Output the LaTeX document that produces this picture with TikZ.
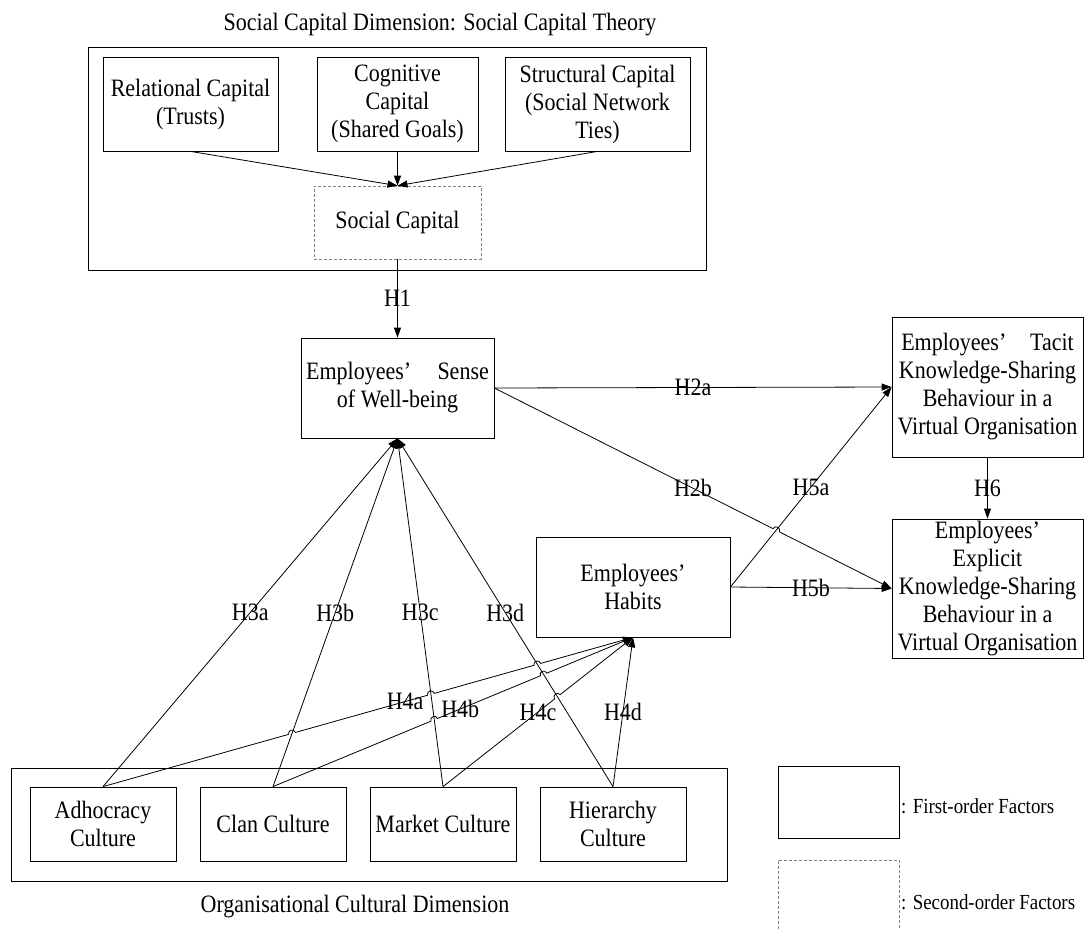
\documentclass[tikz,border=0pt]{standalone}
\usepackage{fontspec}
\setmainfont{Liberation Serif}[FakeStretch=0.88]
\usetikzlibrary{arrows.meta,calc,intersections}

\begin{document}
\begin{tikzpicture}[x=1pt,y=-1pt,
  every node/.style={font=\fontsize{25}{28}\selectfont},
  box/.style={draw, line width=0.8pt, align=center, inner sep=0pt},
  dbox/.style={draw=gray, densely dashed, line width=0.6pt, align=center, inner sep=0pt},
  lbl/.style={inner sep=0pt},
  legtxt/.style={inner sep=0pt, anchor=west, font=\fontsize{21.5}{24}\selectfont},
  arr/.style={line width=0.8pt, -{Triangle[length=10pt,width=7pt]}},
  hopbend/.style={bend left=90, looseness=1.65},
]
\useasboundingbox (0,0) rectangle (1091,929);

% ---- social capital block
\node[lbl] (sctitle) at (440,25) {Social Capital Dimension: Social Capital Theory};
\node[box, minimum width=618, minimum height=223] (scframe) at (397,158.5) {};
\node[box, minimum width=175, minimum height=94] (rel) at (190.5,104) {Relational Capital\\(Trusts)};
\node[box, minimum width=161, minimum height=94] (cog) at (397.5,104) {Cognitive\\Capital\\(Shared Goals)};
\node[box, minimum width=185, minimum height=94] (str) at (597.5,104) {Structural Capital\\(Social Network\\Ties)};
\node[dbox, minimum width=167, minimum height=73] (soc) at (397.5,222.5) {Social Capital};

\draw[arr] (rel.south) -- (soc.north);
\draw[arr] (cog.south) -- (soc.north);
\draw[arr] (str.south) -- (soc.north);

% ---- central constructs
\node[box, minimum width=193, minimum height=100] (sense) at (397.5,388) {Employees’\hspace{1.05em}Sense\\of Well-being};
\node[box, minimum width=191, minimum height=140] (tacit) at (987.5,387) {Employees’\hspace{0.95em}Tacit\\Knowledge-Sharing\\Behaviour in a\\Virtual Organisation};
\node[box, minimum width=191, minimum height=139] (expl) at (987.5,588.5) {Employees’\\Explicit\\Knowledge-Sharing\\Behaviour in a\\Virtual Organisation};
\node[box, minimum width=194, minimum height=100] (habits) at (633,587) {Employees’\\Habits};

\draw[arr] (soc.south) -- node[lbl] (lh1) {H1} (sense.north);
\draw[arr] (sense.east) -- node[lbl] (lh2a) {H2a} (tacit.west);
\draw[arr] (tacit.south) -- node[lbl] (lh6) {H6} (expl.north);
\draw[arr] (habits.east) -- node[lbl] (lh5a) {H5a} (tacit.west);
\draw[arr] (habits.east) -- node[lbl] (lh5b) {H5b} (expl.west);

% ---- organisational culture block
\node[box, minimum width=716, minimum height=113] (ocframe) at (369,824.5) {};
\node[box, minimum width=146, minimum height=74] (adh) at (103,824) {Adhocracy\\Culture};
\node[box, minimum width=146, minimum height=74] (clan) at (273,824) {Clan Culture};
\node[box, minimum width=146, minimum height=74] (mkt) at (443,824) {Market Culture};
\node[box, minimum width=146, minimum height=74] (hier) at (613,824) {Hierarchy\\Culture};
\node[lbl] (octitle) at (355,907) {Organisational Cultural Dimension};

% culture -> well-being
\draw[arr] (adh.north) -- node[lbl] (lh3a) {H3a} (sense.south);
\draw[arr, name path=p3b] (clan.north) -- node[lbl] (lh3b) {H3b} (sense.south);
\draw[arr, name path=p3c] (mkt.north) -- node[lbl] (lh3c) {H3c} (sense.south);
\draw[arr, name path=p3d] (hier.north) -- node[lbl] (lh3d) {H3d} (sense.south);

% culture -> habits (with line hops over the H3 links)
\path[name path=p4a] (adh.north) -- (habits.south);
\path[name path=p4b] (clan.north) -- (habits.south);
\path[name path=p4c] (mkt.north) -- (habits.south);
\path[name path=p2b] (sense.east) -- (expl.west);
\path[name path=p5a] (habits.east) -- (tacit.west);
\path[name intersections={of=p4a and p3b, by=xab}];
\path[name intersections={of=p4a and p3c, by=xac}];
\path[name intersections={of=p4a and p3d, by=xad}];
\path[name intersections={of=p4b and p3c, by=xbc}];
\path[name intersections={of=p4b and p3d, by=xbd}];
\path[name intersections={of=p4c and p3d, by=xcd}];
\path[name intersections={of=p2b and p5a, by=xhb}];

\draw[arr] (adh.north)
  -- ($(xab)!3.5pt!(adh.north)$) to[hopbend] ($(xab)!3.5pt!(habits.south)$)
  -- ($(xac)!3.5pt!(adh.north)$) to[hopbend] ($(xac)!3.5pt!(habits.south)$)
  -- ($(xad)!3.5pt!(adh.north)$) to[hopbend] ($(xad)!3.5pt!(habits.south)$)
  -- (habits.south);
\draw[arr] (clan.north)
  -- ($(xbc)!3.5pt!(clan.north)$) to[hopbend] ($(xbc)!3.5pt!(habits.south)$)
  -- ($(xbd)!3.5pt!(clan.north)$) to[hopbend] ($(xbd)!3.5pt!(habits.south)$)
  -- (habits.south);
\draw[arr] (mkt.north)
  -- ($(xcd)!3.5pt!(mkt.north)$) to[hopbend] ($(xcd)!3.5pt!(habits.south)$)
  -- (habits.south);
\draw[arr] (hier.north) -- (habits.south);
\draw[arr] (sense.east)
  -- ($(xhb)!3.5pt!(sense.east)$) to[hopbend] ($(xhb)!3.5pt!(expl.west)$)
  -- (expl.west);

\node[lbl] (lh4a) at ($(adh.north)!0.57!(habits.south)$) {H4a};
\node[lbl] (lh4b) at ($(clan.north)!0.52!(habits.south)$) {H4b};
\node[lbl] (lh4c) at ($(mkt.north)!0.5!(habits.south)$) {H4c};
\node[lbl] (lh4d) at ($(hier.north)!0.5!(habits.south)$) {H4d};
\node[lbl] (lh2b) at ($(sense.east)!0.5!(expl.west)$) {H2b};

% ---- legend
\node[box, minimum width=121, minimum height=72] (leg1) at (838.5,802) {};
\node[legtxt] (leg1t) at (901,806) {: First-order Factors};
\node[dbox, minimum width=121, minimum height=72] (leg2) at (838.5,896) {};
\node[legtxt] (leg2t) at (901,902) {: Second-order Factors};
\end{tikzpicture}
\end{document}
